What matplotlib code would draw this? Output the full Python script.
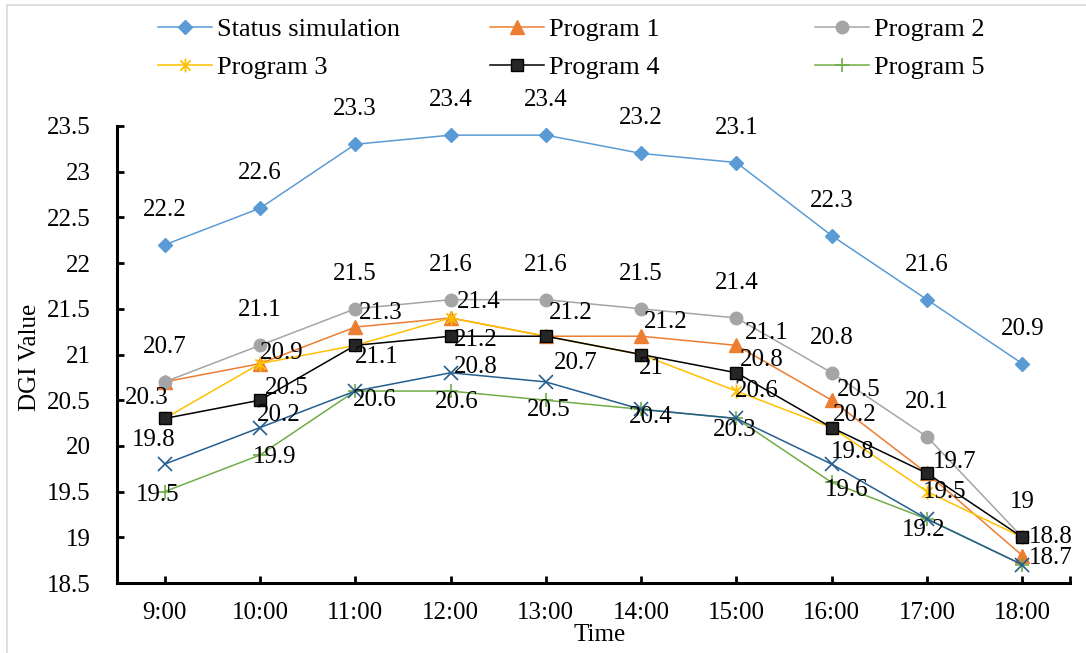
import matplotlib
matplotlib.use("Agg")
import matplotlib.pyplot as plt
from matplotlib.path import Path
from matplotlib.lines import Line2D

plt.rcParams['font.family'] = ['Liberation Serif', 'DejaVu Serif']

# ---- data ----
times = ["9:00", "10:00", "11:00", "12:00", "13:00", "14:00", "15:00", "16:00", "17:00", "18:00"]
status_sim = [22.2, 22.6, 23.3, 23.4, 23.4, 23.2, 23.1, 22.3, 21.6, 20.9]
program_1 = [20.7, 20.9, 21.3, 21.4, 21.2, 21.2, 21.1, 20.5, 19.7, 18.8]
program_2 = [20.7, 21.1, 21.5, 21.6, 21.6, 21.5, 21.4, 20.8, 20.1, 19.0]
program_3 = [20.3, 20.9, 21.1, 21.4, 21.2, 21.0, 20.6, 20.2, 19.5, 19.0]
program_4 = [20.3, 20.5, 21.1, 21.2, 21.2, 21.0, 20.8, 20.2, 19.7, 19.0]
program_5 = [19.5, 19.9, 20.6, 20.6, 20.5, 20.4, 20.3, 19.6, 19.2, 18.7]
extra_run = [19.8, 20.2, 20.6, 20.8, 20.7, 20.4, 20.3, 19.8, 19.2, 18.7]
y_ticks = [18.5, 19, 19.5, 20, 20.5, 21, 21.5, 22, 22.5, 23, 23.5]

# ---- label placement: point index -> (dx, dy) offset of label centre, in pixels ----
above = {i: (0, 35) for i in range(10)}
label_layout = {
    "status": above,
    "p2": above,
    "p1": {1: (22, 11), 2: (25, 14), 3: (28, 16), 4: (25, 23), 5: (25, 14),
           6: (30, 12), 7: (27, 10), 8: (28, 11), 9: (28, 19)},
    "p3": {6: (20, 0), 8: (18, 0)},
    "p4": {0: (-18, 20), 1: (27, 12), 2: (21, -12), 3: (25, -4), 5: (10, -13),
           6: (25, 13), 7: (23, 13)},
    "p5": {0: (-7, -3), 1: (15, -2), 3: (6, -11), 4: (3, -10), 5: (10, -8),
           6: (-2, -12), 7: (15, -8), 8: (-3, -11)},
    "extra": {0: (-11, 24), 1: (19, 13), 2: (20, -9), 3: (25, 6), 4: (30, 19),
              7: (21, 12), 9: (28, 7)},
}

# Excel-style 'star' marker: an x with a vertical stroke
star = Path([(-1, -1), (1, 1), (-1, 1), (1, -1), (0, -1.35), (0, 1.35)],
            [Path.MOVETO, Path.LINETO] * 3)

W, H = 1086, 653
fig = plt.figure(figsize=(W / 100, H / 100), dpi=100)
ax = fig.add_axes([117 / W, 1 - 583 / H, (1070 - 117) / W, (583 - 126) / H])

x = list(range(len(times)))
series = [
    ("status", "Status simulation", status_sim,
     dict(color="#5B9BD5", marker="D", markersize=7, mfc="#5B9BD5", mec="#5B9BD5")),
    ("p1", "Program 1", program_1,
     dict(color="#ED7D31", marker="^", markersize=9.5, mfc="#ED7D31", mec="#ED7D31")),
    ("p2", "Program 2", program_2,
     dict(color="#A5A5A5", marker="o", markersize=9, mfc="#A5A5A5", mec="#A5A5A5")),
    ("p3", "Program 3", program_3,
     dict(color="#FFC000", marker=star, markersize=10, mfc="none", mec="#FFC000", mew=1.3)),
    ("p4", "Program 4", program_4,
     dict(color="#000000", marker="s", markersize=8.5, mfc="#262626", mec="#000000")),
    ("p5", "Program 5", program_5,
     dict(color="#70AD47", marker="+", markersize=10, mec="#70AD47", mew=1.2)),
    ("extra", "_nolegend_", extra_run,
     dict(color="#255E91", marker="x", markersize=10, mec="#255E91", mew=1.2)),
]

handles = {}
for z, (key, name, vals, style) in enumerate(series):
    (ln,) = ax.plot(x, vals, lw=1.1, label=name, zorder=3 + z, **style)
    handles[key] = ln
    for i, (dx, dy) in label_layout[key].items():
        ax.annotate(f"{vals[i]:g}", xy=(i, vals[i]), xytext=(dx, dy),
                    textcoords="offset pixels", ha="center", va="center",
                    fontsize=18, color="black", zorder=20)

# ---- axes styling ----
ax.set_xlim(-0.5, len(times) - 0.5)
ax.set_ylim(18.5, 23.5)
ax.set_xticks(x)
ax.set_xticklabels(times)
ax.set_xticks([len(times) - 0.5], minor=True)
ax.set_yticks(y_ticks)
ax.set_yticklabels([f"{t:g}" for t in y_ticks])
for s in ("top", "right"):
    ax.spines[s].set_visible(False)
for s in ("left", "bottom"):
    ax.spines[s].set_linewidth(2.2)
ax.tick_params(axis="both", which="both", direction="in", length=5, width=2,
               labelsize=18)
ax.tick_params(axis="y", pad=19)
ax.tick_params(axis="x", pad=14)
ax.set_facecolor("none")

ax.set_xlabel("Time", fontsize=18)
ax.xaxis.set_label_coords((600 - 117) / 953, -(635 - 583) / 457)
ax.xaxis.label.set_va("center")
ax.set_ylabel("DGI Value", fontsize=18)
ax.yaxis.set_label_coords((30 - 117) / 953, (583 - 357) / 457)
ax.yaxis.label.set_va("center")

# ---- legend: three columns of equal width ----
cols = [(158, ["status", "p3"]), (490, ["p1", "p4"]), (815, ["p2", "p5"])]
for px, keys in cols:
    hs = [handles[k] for k in keys]
    fig.legend(hs, [h.get_label() for h in hs], loc="upper left",
               bbox_to_anchor=(px / W, 1 - 18 / H), frameon=False, fontsize=19,
               handlelength=2.05, handletextpad=0.2, borderpad=0, borderaxespad=0,
               labelspacing=0.53)

# chart-area border (top and left edges visible)
fig.add_artist(Line2D([7 / W, 1.0], [1 - 5 / H, 1 - 5 / H], color="#D9D9D9", lw=1.2))
fig.add_artist(Line2D([7 / W, 7 / W], [0.0, 1 - 5 / H], color="#D9D9D9", lw=1.2))

fig.savefig("out.png", dpi=100)
